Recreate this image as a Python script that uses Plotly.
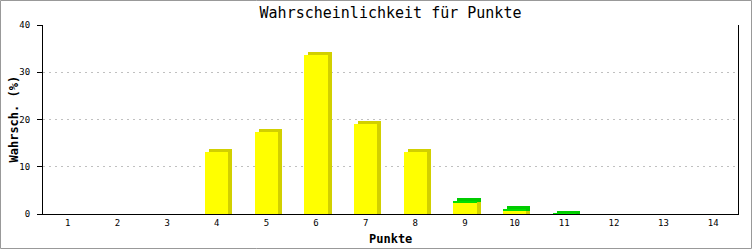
import plotly.graph_objects as go

# ---- data ----
punkte = [1, 2, 3, 4, 5, 6, 7, 8, 9, 10, 11, 12, 13, 14]
serie_gelb = [0, 0, 0, 13.2, 17.4, 33.6, 19.1, 13.2, 2.5, 0.6, 0, 0, 0, 0]
serie_gruen = [0, 0, 0, 0, 0, 0, 0, 0, 0.35, 0.45, 0.1, 0, 0, 0]
y_ticks = [0, 10, 20, 30, 40]

# ---- style ----
W, H = 753, 250
ML, MR, MT, MB = 43, 15, 25, 36
PW, PH = W - ML - MR, H - MT - MB
XR = [0.5, 14.5]
YR = [0, 40]
bar_w = 0.465
dx = 4 * (XR[1] - XR[0]) / PW      # 3D depth offset (x, data units)
dy = 3 * (YR[1] - YR[0]) / PH      # 3D depth offset (y, data units)

gelb, gelb_d = "#ffff00", "#d2d000"
gruen, gruen_d = "#00e000", "#00cc00"

fig = go.Figure()

# depth faces (side + top), drawn behind the front faces
fig.add_bar(x=punkte, y=[v + dy if v > 0 else 0 for v in serie_gelb], base=[0] * len(punkte),
            width=bar_w, offset=-bar_w / 2 + dx,
            marker=dict(color=gelb_d, line=dict(width=0)),
            hoverinfo="skip", showlegend=False)
fig.add_bar(x=punkte, y=[v + dy if v > 0 else 0 for v in serie_gruen], base=serie_gelb,
            width=bar_w, offset=-bar_w / 2 + dx,
            marker=dict(color=gruen_d, line=dict(width=0)),
            hoverinfo="skip", showlegend=False)
# front faces
fig.add_bar(x=punkte, y=serie_gelb, base=[0] * len(punkte), width=bar_w,
            offset=-bar_w / 2, marker=dict(color=gelb, line=dict(width=0)),
            showlegend=False)
fig.add_bar(x=punkte, y=serie_gruen, base=serie_gelb, width=bar_w,
            offset=-bar_w / 2, marker=dict(color=gruen, line=dict(width=0)),
            showlegend=False)

mono = "DejaVu Sans Mono"

fig.update_layout(
    width=W, height=H,
    margin=dict(l=ML, r=MR, t=MT, b=MB, pad=0, autoexpand=False),
    paper_bgcolor="white", plot_bgcolor="white",
    barmode="overlay", bargap=0,
    title=dict(text="Wahrscheinlichkeit für Punkte", x=(ML + PW / 2) / W, xanchor="center",
               y=1 - 13 / H, yanchor="middle",
               font=dict(family=mono, size=15, color="black")),
    xaxis=dict(range=XR, tickvals=punkte, ticktext=[str(p) for p in punkte],
               automargin=False,
               showgrid=False, zeroline=False, showline=True, linecolor="black", linewidth=1,
               ticks="", tickfont=dict(family=mono, size=9, color="black")),
    yaxis=dict(range=YR, tickvals=y_ticks, ticktext=[str(t) for t in y_ticks],
               automargin=False,
               showgrid=True, gridcolor="#c0c0c0", griddash="2px,4px", gridwidth=1,
               zeroline=False, showline=True, linecolor="black", linewidth=1, mirror=True,
               ticks="outside", ticklen=5, tickcolor="black", ticklabelstandoff=5,
               tickfont=dict(family=mono, size=9, color="black")),
    annotations=[
        dict(text="<b>Punkte</b>", xref="paper", yref="paper", x=0.5, y=-(239 - 214) / PH,
             xanchor="center", yanchor="middle", showarrow=False,
             font=dict(family=mono, size=12, color="black")),
        dict(text="<b>Wahrsch. (%)</b>", xref="paper", yref="paper", x=-(ML - 13) / PW, y=0.5,
             xanchor="center", yanchor="middle", textangle=-90, showarrow=False,
             font=dict(family=mono, size=12, color="black")),
    ],
    shapes=[dict(type="rect", xref="paper", yref="paper",
                 x0=(0.5 - ML) / PW, x1=(W - 1.5 - ML) / PW,
                 y0=-(MB - 1.5) / PH, y1=1 + (MT - 0.5) / PH,
                 line=dict(color="#999999", width=1), layer="above")],
)

fig.write_html("out.html")
